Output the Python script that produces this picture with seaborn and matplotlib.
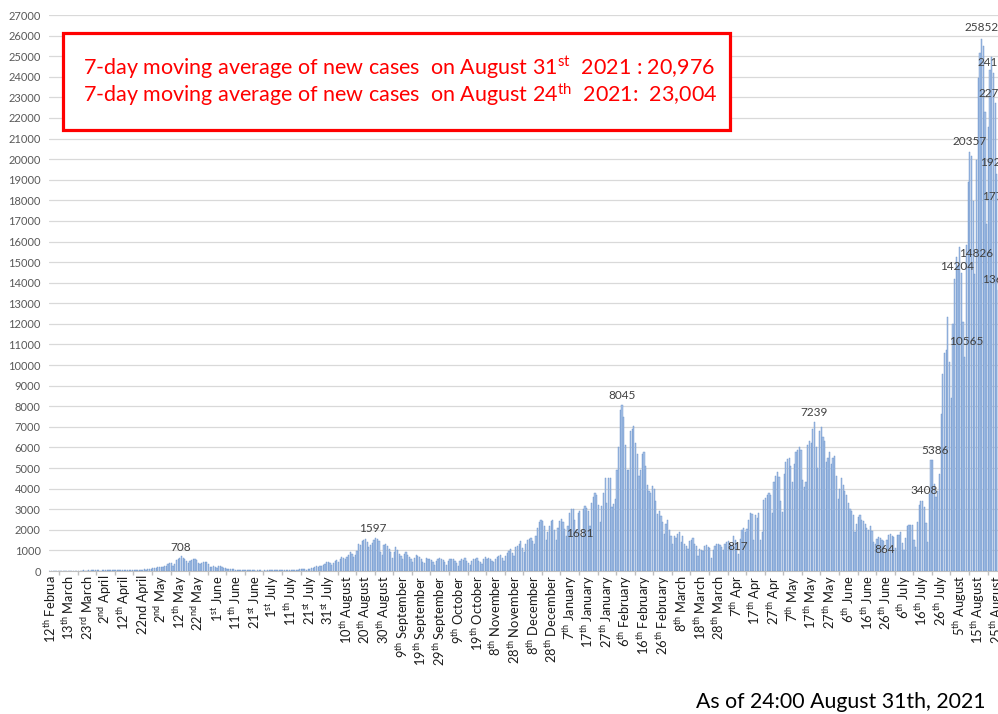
import re
import matplotlib
matplotlib.use("Agg")
import matplotlib.pyplot as plt
import seaborn as sns
import pandas as pd
import numpy as np
from matplotlib.patches import Rectangle

# ---------------- data (daily new cases) ----------------
cases_2020_spring = [
    2, 0, 1, 3, 2, 4, 5, 3, 6, 8, 9,
    10, 6, 12, 15, 9, 18, 22, 12, 16, 25, 20,
    22, 30, 18, 26, 34, 28, 38, 30, 24, 36, 42,
    30, 40, 46, 34, 28, 48, 44, 33, 38, 50, 55,
    35, 45, 40, 30, 55, 60, 42, 50, 65, 48, 62,
    70, 95, 60, 110, 120, 90, 150, 165, 130, 180, 200,
    190, 210, 250, 235, 350, 370, 385, 250, 350, 515, 575,
    640, 708, 610, 575, 505, 390, 480, 545, 585, 575, 555,
    390, 350, 375, 435, 430, 445, 360, 200, 180, 250, 205,
    165, 260, 240, 205, 160, 125, 90, 90, 120, 100, 85,
    60, 70, 55, 50, 40, 35, 30, 45, 38, 25, 30,
    28, 20, 35, 25, 40, 22, 30, 18, 35, 45, 40,
    50, 38, 45, 55, 60, 40, 35, 58, 65, 50, 48,
]
cases_2020_summer = [
    55, 60, 70, 45, 40, 80, 90, 100, 75, 60, 110,
    120, 150, 130, 200, 250, 180, 260, 230, 300, 350, 420,
    430, 390, 300, 410, 480, 520, 460, 600, 680, 650, 590,
    700, 780, 920, 840, 680, 800, 960, 1300, 1250, 1450, 1500,
    1540, 1430, 1160, 1250, 1380, 1500, 1597, 1540, 1450, 910, 800,
    1280, 1330, 1220, 1060, 900, 620, 920, 1150, 1010, 840, 720,
    580, 840, 900, 760, 680, 560, 430, 620, 790, 750, 670,
    590, 420, 380, 620, 600, 560, 520, 460, 270, 500, 580,
    640, 560, 530, 450, 300, 470, 600, 600, 580, 490, 400,
    250, 470, 560, 540, 620, 470, 400, 270, 480, 570, 560,
    620, 500, 430, 350, 560, 680, 600, 650, 570, 470, 430,
]
cases_winter = [
    600, 700, 740, 780, 610, 480, 750, 870, 950, 1050, 880,
    750, 1150, 1200, 1300, 1450, 1100, 900, 1300, 1500, 1550, 1600,
    1450, 1300, 1700, 2100, 2380, 2500, 2420, 2200, 1500, 1900, 2180,
    2450, 2500, 2000, 1520, 2100, 2430, 2520, 2400, 2030, 1680, 2190,
    2800, 2990, 3030, 2500, 1990, 2800, 2900, 1681, 3000, 3150, 3050,
    2900, 2200, 3300, 3600, 3800, 3700, 3200, 2400, 3150, 3800, 4500,
    3300, 4500, 4520, 3100, 3250, 3500, 4900, 6000, 7800, 8045, 7500,
    6100, 4900, 4900, 6800, 6900, 7050, 6200, 5700, 4600, 4900, 5700,
    5800, 5100, 4200, 3900, 3800, 4150, 4000, 3400, 2750, 2900, 2650,
    2400, 1800, 2300, 2500, 2000, 1700, 1300, 1700, 1600, 1800, 1900,
]
cases_2021_spring = [
    1400, 1700, 1300, 1200, 1050, 1450, 1500, 1600, 1300, 1200, 750,
    1050, 1000, 950, 1200, 1250, 1150, 1100, 650, 1000, 1200, 1300,
    1300, 1250, 1150, 1000, 1300, 1400, 1450, 1300, 1200, 1700, 1500,
    1300, 817, 1550, 2000, 2100, 1900, 2050, 2500, 2800, 2750, 1500,
    2700, 2550, 2800, 1500, 1900, 3450, 3550, 3700, 3800, 3700, 2800,
    4300, 4600, 4800, 4550, 3400, 2850, 4700, 5300, 5450, 5500, 5100,
    4300, 5200, 5800, 5900, 6000, 5900, 4400, 4100, 4300, 6100, 6300,
    6200, 6900, 7239, 6000, 5000, 6800, 7000, 6500, 6300, 5300, 5500,
    5800, 5200, 5500, 5600, 4600, 3500, 4000, 4500, 4200, 3900, 3700,
    3300, 3000, 2900, 2700, 1900, 2300, 2600, 2700, 2500, 2450, 2300,
    2100, 2000, 2200, 1950, 1400, 1300, 1550, 1650, 1600, 1500, 1450,
]
cases_2021_summer = [
    864, 1500, 1750, 1800, 1700, 1650, 1100, 1754, 1751, 1913, 1364,
    1036, 1600, 2180, 2236, 2251, 2218, 1499, 1166, 2384, 3194, 3417,
    3408, 3100, 2329, 1399, 3758, 5386, 5397, 4225, 3574, 3900, 4692,
    7629, 9576, 10565, 10743, 12341, 10168, 8396, 12016, 14204, 15263, 14826,
    15753, 14472, 12076, 10372, 15812, 18889, 20357, 20151, 17950, 14436, 19955,
    23917, 25151, 25852, 25492, 22287, 16833, 21567, 24316, 24956, 24183, 22748,
    19297, 13636, 17750,
]

# one tick label every 11 bars ("^" marks a superscript ordinal)
tick_labels = [
    "12^th Februa", "13^th March", "23^rd March", "2^nd April", "12^th April",
    "22nd April", "2^nd May", "12^th May", "22^nd May", "1^st June",
    "11^th June", "21^st June", "1^st July", "11^th July", "21^st July",
    "31^st July", "10^th August", "20^th August", "30^th August",
    "9^th September", "19^th September", "29^th September", "9^th October",
    "19^th October", "8^th November", "28^th November", "8^th December",
    "28^th December", "7^th January", "17^th January", "27^th January",
    "6^th February", "16^th February", "26^th February", "8^th March",
    "18^th March", "28^th March", "7^th Apr", "17^th Apr", "27^th Apr",
    "7^th May", "17^th May", "27^th May", "6^th June", "16^th June",
    "26^th June", "6^th July", "16^th July", "26^th July", "5^th August",
    "15^th August", "25^th August",
]

# values that carry a data label
labelled_values = [708, 1597, 1681, 8045, 817, 7239, 864, 3408, 5386,
                   10565, 14204, 14826, 20357, 25852, 24183, 22748,
                   19297, 17750, 13636]

cases = (cases_2020_spring + cases_2020_summer + cases_winter
         + cases_2021_spring + cases_2021_summer)
N = len(cases)

# ---------------- style ----------------
sns.set_theme(style="white")
plt.rcParams["font.family"] = ["Lato", "DejaVu Sans"]
plt.rcParams["mathtext.fontset"] = "custom"
plt.rcParams["mathtext.rm"] = "Lato"
plt.rcParams["mathtext.it"] = "Lato:italic"
plt.rcParams["mathtext.bf"] = "Lato:bold"
plt.rcParams["mathtext.sf"] = "Lato"


def sup(s):
    return re.sub(r"\^([a-z]+)", r"$^{\\mathrm{\1}}$", s)


W, H = 998, 714
fig = plt.figure(figsize=(W / 100, H / 100), dpi=100)
fig.patch.set_facecolor("white")

px_per_bar = 1.688
ax_left, ax_right, ax_top, ax_bottom = 49, 1010, 15, 571
ax = fig.add_axes([ax_left / W, 1 - ax_bottom / H,
                   (ax_right - ax_left) / W, (ax_bottom - ax_top) / H])

df = pd.DataFrame({"day": np.arange(N), "cases": cases})
sns.barplot(data=df, x="day", y="cases", color="#a9c3e7", saturation=1,
            edgecolor="#6690c9", linewidth=0.3, width=0.72,
            errorbar=None, ax=ax)

ax.set_xlim(-0.5, -0.5 + (ax_right - ax_left) / px_per_bar)
ax.set_ylim(0, 27000)
ax.set_yticks(np.arange(0, 27001, 1000))
ax.set_yticklabels([str(v) for v in range(0, 27001, 1000)])
ax.yaxis.grid(True, color="#d9d9d9", linewidth=0.9)
ax.xaxis.grid(False)
ax.set_axisbelow(True)

step = 11
ax.set_xticks(np.arange(0, step * len(tick_labels), step))
ax.set_xticklabels([sup(t) for t in tick_labels], rotation=90,
                   fontsize=9.3, color="#1a1a1a", ha="center", va="top")
ax.set_xticks(np.arange(5.5, N, step), minor=True)
ax.tick_params(axis="x", which="major", length=0, pad=3)
ax.tick_params(axis="x", which="minor", length=3, color="#bfbfbf",
               direction="out", bottom=True)
ax.tick_params(axis="y", length=0, pad=6, labelsize=8, labelcolor="#595959")
ax.set_xlabel("")
ax.set_ylabel("")
for s in ("left", "right", "top"):
    ax.spines[s].set_visible(False)
ax.spines["bottom"].set_color("#bfbfbf")
ax.spines["bottom"].set_linewidth(0.8)

# data labels (positions in bar / value units)
label_pos = [(77.7, 1165), (191.4, 2087), (314.0, 1845), (338.8, 8544),
             (407.7, 1180), (452.7, 7684), (494.8, 1068), (517.9, 3932),
             (524.6, 5874), (542.9, 11131), (537.2, 14772), (548.8, 15420),
             (545.1, 20874), (552.2, 26408), (559.5, 24709), (560.3, 23204),
             (561.2, 19854), (562.6, 18204), (562.3, 14175)]
for v, (lx, ly) in zip(labelled_values, label_pos):
    ax.text(lx, ly, str(v), ha="center", va="center", fontsize=8.5,
            color="#404040", clip_on=False)

# red info box
fig.add_artist(Rectangle((63 / W, 1 - 130 / H), 667 / W, 97 / H,
                         transform=fig.transFigure, facecolor="white",
                         edgecolor="#ff0000", linewidth=2.3, zorder=5))
fig.text(83 / W, 1 - 68 / H,
         "7-day moving average of new cases  on August 31$^{\\mathrm{st}}$  2021 : 20,976",
         color="#ff0000", fontsize=15.5, ha="left", va="center", zorder=6)
fig.text(83 / W, 1 - 95 / H,
         "7-day moving average of new cases  on August 24$^{\\mathrm{th}}$  2021:  23,004",
         color="#ff0000", fontsize=15.5, ha="left", va="center", zorder=6)

fig.text(985 / W, 1 - 702 / H, "As of 24:00 August 31th, 2021",
         color="black", fontsize=15.3, ha="right", va="center")

fig.savefig("out.png", dpi=100)
